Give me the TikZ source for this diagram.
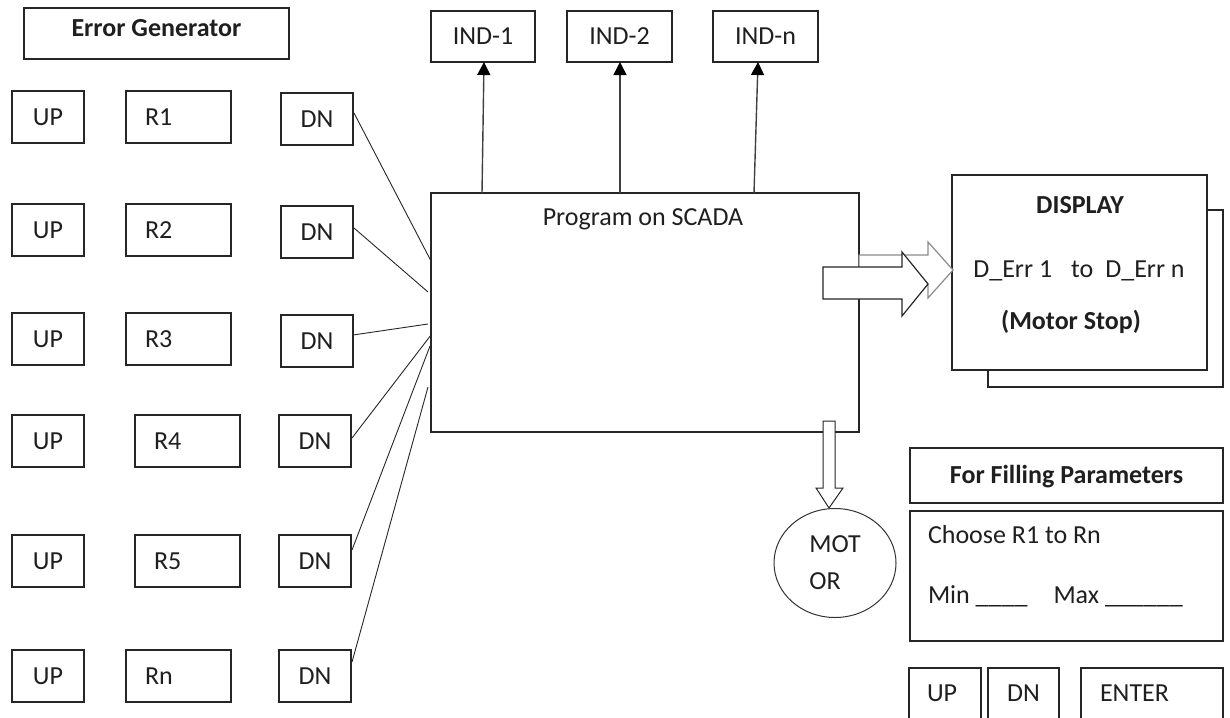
\documentclass[tikz,border=0pt]{standalone}
\usepackage{fontspec}
\setmainfont{Carlito}
\usetikzlibrary{arrows.meta,shapes.geometric,calc}
\begin{document}
\begin{tikzpicture}[x=1pt,y=-1pt,
  every node/.style={inner sep=0pt, outer sep=0pt, text=black!88},
  font=\fontsize{26}{37}\selectfont,
  box/.style={draw=black!85, line width=1.3pt, anchor=north west, fill=white,
              text height=16.5pt, text depth=0pt},
  upbox/.style={box, minimum width=72pt, minimum height=52pt},
  rbox/.style={box, minimum width=105pt, minimum height=52pt, inner xsep=19pt,
               text width=67pt, align=left},
  indbox/.style={box, minimum height=51pt},
  conn/.style={draw=black!85, line width=0.9pt},
  indarrow/.style={draw=black!75, line width=1.4pt, -{Triangle[width=13pt,length=13pt,color=black]}},
  blockarrow/.style={draw=black!85, line width=1.2pt, fill=white, line join=miter}
]
\useasboundingbox (0,0) rectangle (1230,717);
\clip (0,0) rectangle (1230,717);

% Error generator
\node[box, minimum width=265pt, minimum height=51pt, text depth=11pt] (eg) at (24,8) {\bfseries Error Generator};

% rows
\node[upbox] (up1) at (12,91) {UP};
\node[rbox] (r1) at (126,91) {R1};
\node[upbox] (dn1) at (281,93) {DN};

\node[upbox] (up2) at (12,204) {UP};
\node[rbox] (r2) at (126,204) {R2};
\node[upbox] (dn2) at (281,206) {DN};

\node[upbox] (up3) at (12,313) {UP};
\node[rbox] (r3) at (126,313) {R3};
\node[upbox] (dn3) at (281,315) {DN};

\node[upbox] (up4) at (12,415) {UP};
\node[rbox] (r4) at (135,415) {R4};
\node[upbox] (dn4) at (279,415) {DN};

\node[upbox] (up5) at (12,535) {UP};
\node[rbox] (r5) at (135,535) {R5};
\node[upbox] (dn5) at (279,535) {DN};

\node[upbox] (upn) at (12,650) {UP};
\node[rbox] (rn) at (126,650) {Rn};
\node[upbox] (dnn) at (279,650) {DN};

% SCADA
\node[box, minimum width=428pt, minimum height=239pt] (scada) at (431,193) {};
\node[anchor=base] (scadatxt) at ($(scada.north)+(-2,32)$) {Program on SCADA};

% IND boxes
\node[indbox, minimum width=104pt] (ind1) at (431,11) {IND-1};
\node[indbox, minimum width=105pt] (ind2) at (567,11) {IND-2};
\node[indbox, minimum width=105pt] (indn) at (713,11) {IND-n};

\draw[indarrow] ($(scada.north west)+(51,0)$) -- ($(ind1.south)+(1,0)$);
\draw[indarrow] ($(scada.north west)+(189,0)$) -- ($(ind2.south)+(0.5,0)$);
\draw[indarrow] ($(scada.north west)+(323,0)$) -- ($(indn.south)+(-7.5,0)$);

% connectors DN -> SCADA
\draw[conn] ($(dn1.east)+(1,-6)$) -- ($(scada.north west)+(0,68)$);
\draw[conn] ($(dn2.east)+(1,-4)$) -- ($(scada.north west)+(-3,99)$);
\draw[conn] ($(dn3.east)+(0,-6)$) -- ($(scada.north west)+(-3,131)$);
\draw[conn] ($(dn4.east)+(1,-3)$) -- ($(scada.north west)+(0,142)$);
\draw[conn] ($(dn5.east)+(1,-11)$) -- ($(scada.north west)+(-1,153)$);
\draw[conn] ($(dnn.east)+(1,-14)$) -- ($(scada.north west)+(-3,194)$);

% Display
\node[box, minimum width=235pt, minimum height=177pt] (dispshadow) at (988,210) {};
\node[box, minimum width=255pt, minimum height=195pt] (display) at (952,175) {};
\node[anchor=base] (disptitle) at (1080,213) {\bfseries DISPLAY};
\node[anchor=base] (disperr) at (1079,277) {D\_Err 1\hspace{19pt}to\hspace{12pt}D\_Err n};
\node[anchor=base] (dispstop) at (1071,329) {\bfseries (Motor Stop)};

% block arrows SCADA -> Display
\draw[blockarrow, draw=black!45] (859,255) -- (928,255) -- (928,242) -- (953,270) -- (928,298) -- (928,285) -- (859,285) -- cycle;
\draw[blockarrow] (823,267) -- (902,267) -- (902,252) -- (928,284) -- (902,316) -- (902,299) -- (823,299) -- cycle;

% Motor
\draw[blockarrow, line width=1pt] (823,421) -- (835,421) -- (835,488) -- (843,488) -- (829,508) -- (816,488) -- (823,488) -- cycle;
\node[ellipse, draw=black!80, line width=1pt, minimum width=122pt, minimum height=109pt, align=left] (motor) at (835,563) {MOT\\OR};

% Filling parameters
\node[box, minimum width=313pt, minimum height=55pt] (fill) at (910,448) {\bfseries For Filling Parameters};
\node[box, minimum width=313pt, minimum height=130pt] (choose) at (910,511) {};
\node[anchor=base west] (choosetxt) at (928,543) {Choose R1 to Rn};
\node[anchor=base west] (minmax) at (928,603) {Min \_\_\_\_\hspace{26pt}Max \_\_\_\_\_\_};

% bottom buttons
\node[box, minimum width=72pt, minimum height=60pt] (bup) at (909,668) {};
\node[box, minimum width=71pt, minimum height=60pt] (bdn) at (988,668) {};
\node[box, minimum width=142pt, minimum height=60pt] (benter) at (1081,668) {};
\node[anchor=base west] (buptxt) at (927,701) {UP};
\node[anchor=base west] (bdntxt) at (1007,701) {DN};
\node[anchor=base west] (bentertxt) at (1100,701) {ENTER};
\end{tikzpicture}
\end{document}
